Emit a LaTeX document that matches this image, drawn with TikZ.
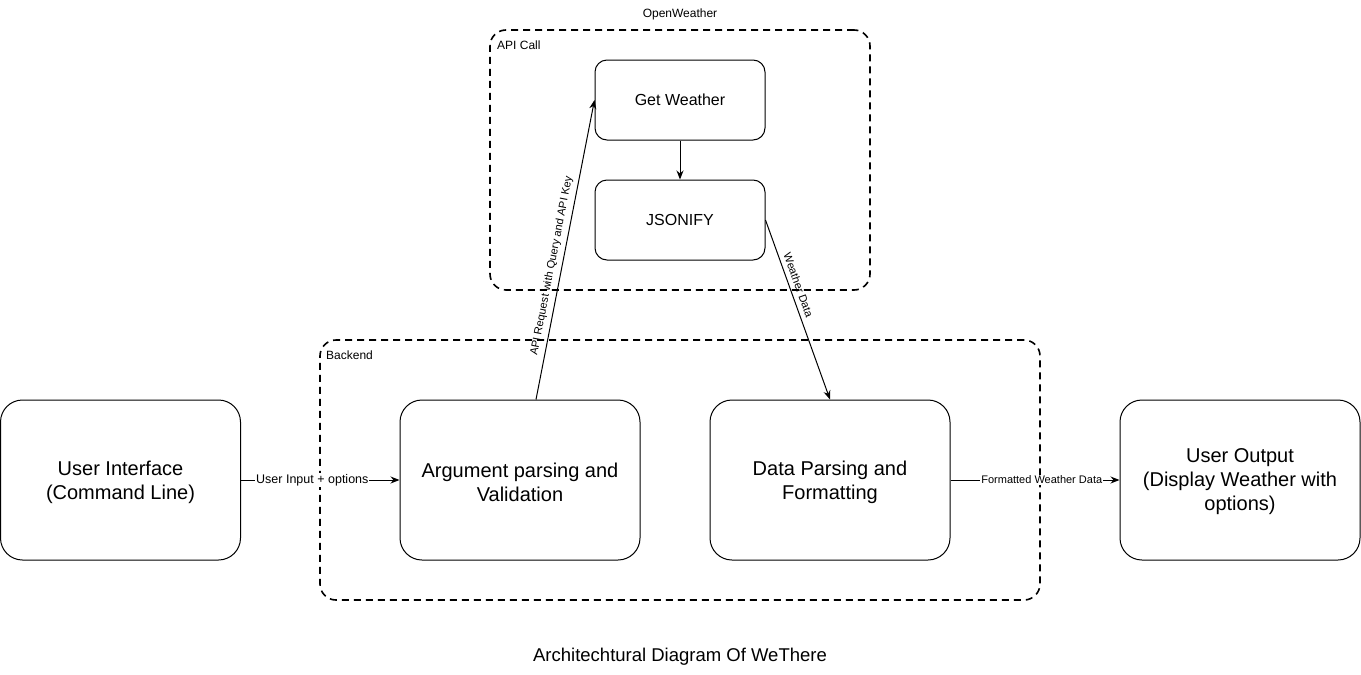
\documentclass[tikz,border=0pt]{standalone}
\usepackage{fontspec}
\setmainfont{Liberation Sans}
\usetikzlibrary{arrows.meta}
\begin{document}
\begin{tikzpicture}[x=1pt,y=-1pt,
  bigtext/.style={align=center, inner sep=0pt, yshift=-2pt, font=\fontsize{20}{24}\selectfont},
  bigbox/.style={draw=black, line width=1pt, rounded corners=22pt, minimum width=240pt, minimum height=160pt, inner sep=0pt, label={[bigtext]center:#1}},
  smallbox/.style={draw=black, line width=1pt, rounded corners=12pt, minimum width=170pt, minimum height=80pt, align=center, inner sep=0pt, font=\fontsize{16}{19}\selectfont},
  container/.style={draw=black, line width=1.6pt, dash pattern=on 7pt off 5pt, rounded corners=16pt, inner sep=0pt},
  arr/.style={-{Stealth[length=9pt,width=7pt]}, line width=1pt},
  elabel/.style={fill=white, inner sep=1pt, font=\fontsize{12.5}{15}\selectfont},
  slabel/.style={sloped, above=3pt, inner sep=1.5pt, font=\fontsize{11}{13}\selectfont},
  grplabel/.style={inner sep=0pt, font=\fontsize{12}{14}\selectfont},
]
\useasboundingbox (0,0) rectangle (1361,675);

% containers
\node[container, minimum width=720pt, minimum height=260pt] (backend) at (680,470) {};
\node[container, minimum width=380pt, minimum height=260pt] (apicall) at (680,160) {};
\node[grplabel, anchor=west] (backendlbl) at (326,355) {Backend};
\node[grplabel, anchor=west] (apilbl) at (497,45) {API Call};
\node[grplabel] (owlbl) at (680,14) {OpenWeather};

% main boxes
\node[bigbox={User Interface\\(Command Line)}] (ui) at (120.5,480) {};
\node[bigbox={Argument parsing and\\Validation}] (arg) at (520,480) {};
\node[bigbox={Data Parsing and\\Formatting}] (dp) at (830,480) {};
\node[bigbox={User Output\\(Display Weather with\\options)}] (out) at (1240,480) {};
\node[smallbox] (gw) at (680,100) {Get Weather};
\node[smallbox] (js) at (680,220) {JSONIFY};

% connectors
\draw[arr] (ui.east) -- node[elabel, pos=0.45] {User Input + options} (arg.west);
\draw[arr] (dp.east) -- node[elabel, pos=0.54, font=\fontsize{11}{13}\selectfont] {Formatted Weather Data} (out.west);
\draw[arr] (gw.south) -- (js.north);
\draw[arr] ([xshift=16pt]arg.north) -- node[slabel, pos=0.44] {API Request with Query and API Key} (gw.west);
\draw[arr] (js.east) -- node[slabel, pos=0.38] {Weather Data} (dp.north);

% title
\node[font=\fontsize{18.5}{22}\selectfont] (title) at (680,657) {Architechtural Diagram Of WeThere};
\end{tikzpicture}
\end{document}
